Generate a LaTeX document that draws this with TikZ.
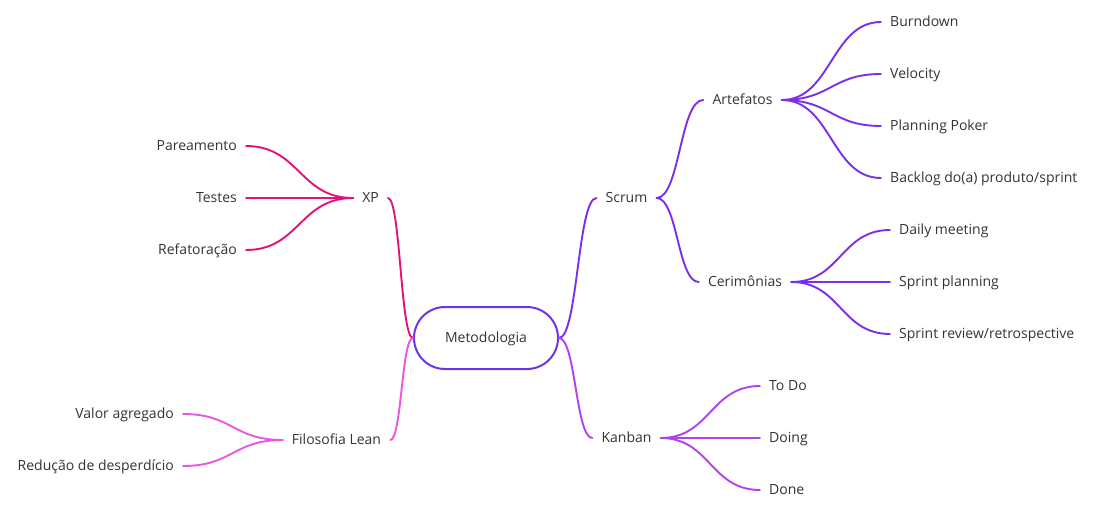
\documentclass[tikz,border=0pt]{standalone}
\usepackage{fontspec}
\setmainfont{Open Sans}
\usetikzlibrary{calc}
\definecolor{txt}{HTML}{333333}
\definecolor{xpc}{HTML}{E2127A}
\definecolor{leanc}{HTML}{E858DC}
\definecolor{scrumc}{HTML}{7B2FEA}
\definecolor{kanc}{HTML}{B043EE}
\definecolor{boxc}{HTML}{6E35E2}
\tikzset{
  lbl/.style={font=\fontsize{14}{16}\selectfont, text=txt, inner xsep=9pt, inner ysep=2pt, text height=9pt, text depth=0pt},
  sc/.style={to path={let \p1=(\tikztostart), \p2=(\tikztotarget) in .. controls ({0.5*\x1+0.5*\x2},\y1) and ({0.5*\x1+0.5*\x2},\y2) .. (\tikztotarget)}},
  edge/.style={line width=1.9pt, line cap=round, sc},
  central/.style={lbl, draw=boxc, line width=2pt, minimum width=144pt, minimum height=62pt, rounded corners=31pt, fill=white}
}
\begin{document}
\begin{tikzpicture}[x=1pt,y=-1pt]
\useasboundingbox (0,0) rectangle (1094,529);
% central
\node[central] (met) at (486,338) {Metodologia};
% level 1
\node[lbl] (xp) at (370.5,198) {XP};
\node[lbl] (lean) at (336.5,440) {Filosofia Lean};
\node[lbl] (scrum) at (626.5,198) {Scrum};
\node[lbl] (kan) at (626.5,438) {Kanban};
% level 2
\node[lbl] (art) at (742.5,100) {Artefatos};
\node[lbl] (cer) at (745,282) {Cerimônias};
% XP leaves
\node[lbl,anchor=east] (par) at (246,146) {Pareamento};
\node[lbl,anchor=east] (tes) at (246,198) {Testes};
\node[lbl,anchor=east] (ref) at (246,250) {Refatoração};
% Lean leaves
\node[lbl,anchor=east] (val) at (183,414) {Valor agregado};
\node[lbl,anchor=east] (red) at (183,466) {Redução de desperdício};
% Artefatos leaves
\node[lbl,anchor=west] (bur) at (881,22) {Burndown};
\node[lbl,anchor=west] (vel) at (881,74) {Velocity};
\node[lbl,anchor=west] (pok) at (881,126) {Planning Poker};
\node[lbl,anchor=west] (bac) at (881,178) {Backlog do(a) produto/sprint};
% Cerimonias leaves
\node[lbl,anchor=west] (dai) at (890,230) {Daily meeting};
\node[lbl,anchor=west] (spl) at (890,282) {Sprint planning};
\node[lbl,anchor=west] (srv) at (890,334) {Sprint review/retrospective};
% Kanban leaves
\node[lbl,anchor=west] (tod) at (760,386) {To Do};
\node[lbl,anchor=west] (doi) at (760,438) {Doing};
\node[lbl,anchor=west] (don) at (760,490) {Done};
% edges
\draw[edge,xpc] (met.west) to (xp.east);
\draw[edge,leanc] (met.west) to (lean.east);
\draw[edge,scrumc] (met.east) to (scrum.west);
\draw[edge,kanc] (met.east) to (kan.west);
\draw[edge,xpc] (xp.west) to (par.east);
\draw[edge,xpc] (xp.west) to (tes.east);
\draw[edge,xpc] (xp.west) to (ref.east);
\draw[edge,leanc] (lean.west) to (val.east);
\draw[edge,leanc] (lean.west) to (red.east);
\draw[edge,scrumc] (scrum.east) to (art.west);
\draw[edge,scrumc] (scrum.east) to (cer.west);
\draw[edge,scrumc] (art.east) to (bur.west);
\draw[edge,scrumc] (art.east) to (vel.west);
\draw[edge,scrumc] (art.east) to (pok.west);
\draw[edge,scrumc] (art.east) to (bac.west);
\draw[edge,scrumc] (cer.east) to (dai.west);
\draw[edge,scrumc] (cer.east) to (spl.west);
\draw[edge,scrumc] (cer.east) to (srv.west);
\draw[edge,kanc] (kan.east) to (tod.west);
\draw[edge,kanc] (kan.east) to (doi.west);
\draw[edge,kanc] (kan.east) to (don.west);
\end{tikzpicture}
\end{document}
